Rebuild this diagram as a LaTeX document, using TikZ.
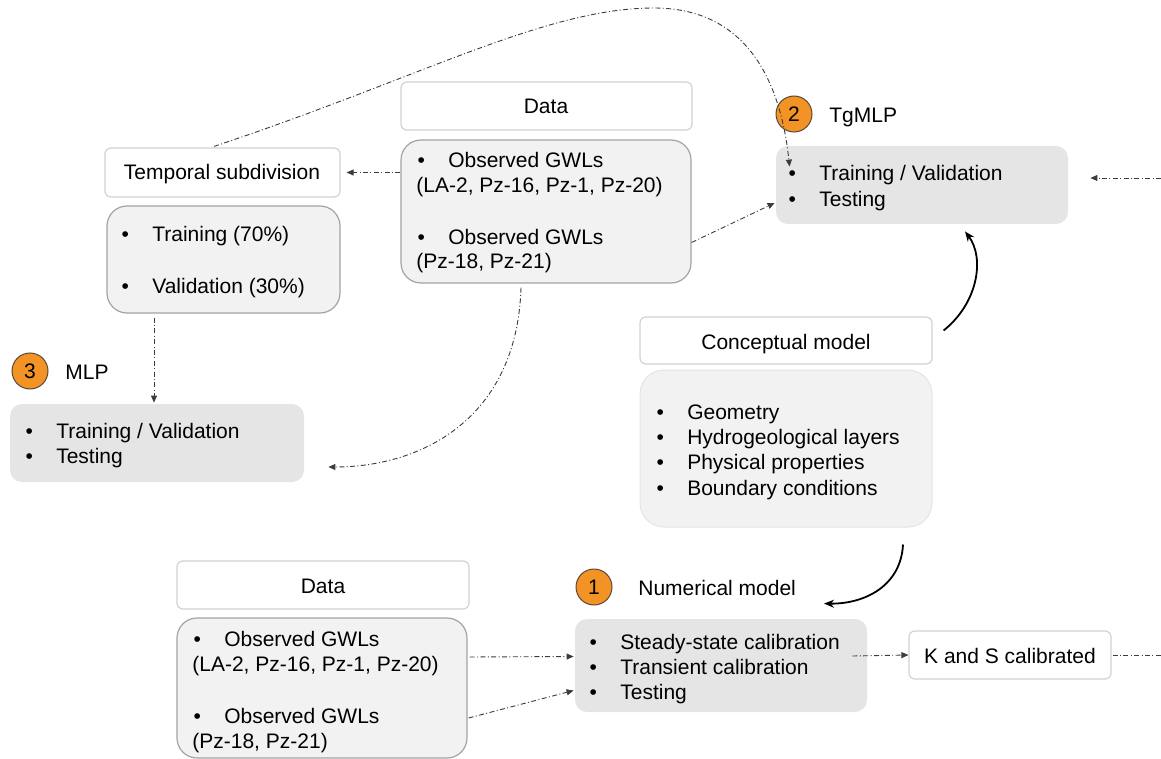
\documentclass[tikz,border=0pt]{standalone}
\usepackage{fontspec}
\setmainfont{Liberation Sans}
\usetikzlibrary{arrows.meta,calc}
\definecolor{hdrline}{HTML}{D2D2D2}
\definecolor{lstline}{HTML}{A3A3A3}
\definecolor{lstfill}{HTML}{F2F2F2}
\definecolor{modfill}{HTML}{E5E5E5}
\definecolor{badge}{HTML}{F39325}
\definecolor{badgeline}{HTML}{5A4838}
\definecolor{link}{HTML}{3C3C3C}
\newcommand\bl[1]{\makebox[15.3pt][l]{•}#1}
\begin{document}
\begin{tikzpicture}[x=0.5pt,y=-0.5pt,
  font=\fontsize{10.5pt}{12.6pt}\selectfont,
  hdrbox/.style={draw=hdrline,fill=white,rounded corners=3pt,line width=0.6pt,inner sep=0pt},
  lstbox/.style={draw=lstline,fill=lstfill,rounded corners=10pt,line width=0.6pt,inner sep=0pt},
  softbox/.style={draw=hdrline!60,fill=lstfill,rounded corners=12pt,line width=0.5pt,inner sep=0pt},
  modbox/.style={fill=modfill,rounded corners=6pt,inner sep=0pt},
  badgenode/.style={circle,fill=badge,draw=badgeline,line width=0.5pt,minimum size=18pt,inner sep=0pt},
  txt/.style={anchor=base west,inner sep=0pt},
  ctxt/.style={anchor=base,inner sep=0pt},
  flow/.style={draw=link,line width=0.45pt,
    dash pattern=on 2.5pt off 1.2pt on 0.5pt off 1.2pt,
    -{Triangle[length=3.5pt,width=3pt]}},
  flownotip/.style={draw=link,line width=0.45pt,
    dash pattern=on 2.5pt off 1.2pt on 0.5pt off 1.2pt},
  solidflow/.style={draw=black,line width=0.9pt,-{Stealth[length=5pt,width=4pt]}}]
\useasboundingbox (0,0) rectangle (1161,759);

% ---- boxes ----
\node[hdrbox,minimum width=145.5pt,minimum height=24pt] (dataA) at (546.5,106) {};
\node[lstbox,minimum width=145pt,minimum height=71.5pt] (dataB) at (546,211.5) {};
\node[hdrbox,minimum width=117.5pt,minimum height=24.5pt] (temp) at (222.5,172.5) {};
\node[lstbox,minimum width=116.5pt,minimum height=53.5pt] (split) at (223.5,259.5) {};
\node[modbox,minimum width=147pt,minimum height=39pt] (mlp) at (157,443) {};
\node[modbox,minimum width=146pt,minimum height=39pt] (tg) at (922,185) {};
\node[hdrbox,minimum width=146pt,minimum height=23.5pt] (concA) at (786,340.5) {};
\node[softbox,minimum width=146pt,minimum height=78.5pt] (concB) at (786,448.5) {};
\node[modbox,minimum width=146pt,minimum height=46.5pt] (num) at (721,665.5) {};
\node[hdrbox,minimum width=101pt,minimum height=24pt] (ks) at (1010,655) {};
\node[hdrbox,minimum width=146pt,minimum height=24pt] (dataC) at (323,585) {};
\node[lstbox,minimum width=145pt,minimum height=70pt] (dataD) at (322,688) {};

% ---- badges ----
\node[badgenode] (b1) at (594,587) {1};
\node[badgenode] (b2) at (794,114) {2};
\node[badgenode] (b3) at (30,371) {3};
\node[txt] (b1t) at (638,595) {Numerical model};
\node[txt] (b2t) at (829,123) {TgMLP};
\node[txt] (b3t) at (65,379) {MLP};

% ---- texts ----
\node[ctxt] (dataAt) at (546,114) {Data};
\node[ctxt] (dataCt) at (323,593) {Data};
\node[ctxt] (tempt) at (222,180) {Temporal subdivision};
\node[ctxt] (concAt) at (786,349) {Conceptual model};
\node[ctxt] (kst) at (1010,663) {K and S calibrated};

\node[txt] (dB1) at (417.3,168) {\bl{Observed GWLs}};
\node[txt] (dB2) at (416,192.5) {(LA-2, Pz-16, Pz-1, Pz-20)};
\node[txt] (dB3) at (417.3,244) {\bl{Observed GWLs}};
\node[txt] (dB4) at (416,269) {(Pz-18, Pz-21)};

\node[txt] (dD1) at (193.3,646) {\bl{Observed GWLs}};
\node[txt] (dD2) at (192,671) {(LA-2, Pz-16, Pz-1, Pz-20)};
\node[txt] (dD3) at (193.3,723) {\bl{Observed GWLs}};
\node[txt] (dD4) at (192,748) {(Pz-18, Pz-21)};

\node[txt] (sp1) at (121.3,242) {\bl{Training (70\%)}};
\node[txt] (sp2) at (121.3,293) {\bl{Validation (30\%)}};

\node[txt] (ml1) at (25.3,438) {\bl{Training / Validation}};
\node[txt] (ml2) at (25.3,463) {\bl{Testing}};

\node[txt] (tg1) at (788.3,181) {\bl{Training / Validation}};
\node[txt] (tg2) at (788.3,206) {\bl{Testing}};

\foreach \t [count=\i] in {Geometry,Hydrogeological layers,Physical properties,Boundary conditions}
  \node[txt] (cb\i) at (656.3,{419+(\i-1)*25.4}) {\bl{\t}};

\node[txt] (nm1) at (589.3,649) {\bl{Steady-state calibration}};
\node[txt] (nm2) at (589.3,674) {\bl{Transient calibration}};
\node[txt] (nm3) at (589.3,699) {\bl{Testing}};

% ---- connector ends ----
\coordinate (tgin) at ($(tg.north west)+(14,21)$);
\coordinate (rightin) at (1161,178);
\coordinate (rightout) at (1161,655);

% ---- connectors ----
\draw[flow,shorten >=3] (temp.east -| dataB.west) -- (temp.east);
\draw[flow] ($(dataB.east)+(0,31)$) -- ($(tg.west)+(-1,18)$);
\draw[flow] ($(dataB.south)+(-25,4)$) .. controls (517,420) and (420,467) .. ($(mlp.east)+(24,24)$);
\draw[flow] ($(split.south)+(-69.5,4)$) -- ($(mlp.north)+(-3,-1)$);
\draw[flow] ($(temp.north)+(-8.5,-1)$) .. controls (420,78) and (545,8) .. (654,8)
  .. controls (755,8) and (782,95) .. (tgin);
\draw[flow] (rightin) -- ($(tg.east)+(22,-7)$);
\draw[flow] ($(dataD.east)+(2,-31)$) -- ($(num.west)+(-1,-9)$);
\draw[flow] ($(dataD.east)+(1,30)$) -- ($(num.west)+(-1,25)$);
\draw[flow] ($(num.east)+(-15,-9.5)$) -- (ks.west);
\draw[flownotip] ($(ks.east)+(1,0)$) -- (rightout);
\draw[solidflow] ($(concA.east)+(11,-10)$) .. controls (978,303) and (985,258) .. ($(tg.south)+(43,7)$);
\draw[solidflow] ($(concB.south)+(117,17)$) .. controls (901,585) and (866,604) .. ($(num.north)+(103,-15)$);
\end{tikzpicture}
\end{document}
